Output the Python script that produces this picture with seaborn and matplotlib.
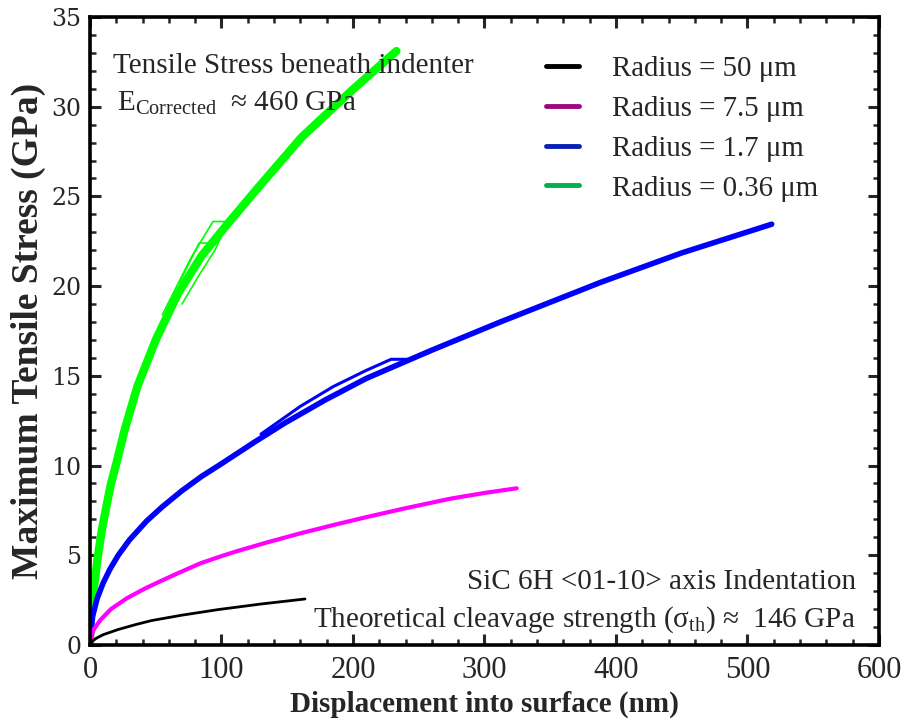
import numpy as np
import pandas as pd
import matplotlib
matplotlib.use("Agg")
import matplotlib.pyplot as plt
from matplotlib.lines import Line2D
from matplotlib.ticker import MultipleLocator
import seaborn as sns

# ---------------- data ----------------
black_x = [0, 2, 5, 10, 21.5, 35, 47, 70, 97.6, 130, 163.5]
black_y = [0, 0.22, 0.38, 0.57, 0.86, 1.14, 1.36, 1.66, 1.97, 2.28, 2.56]

magenta_x = [0, 1, 3, 8, 16, 28, 42, 55, 67, 84, 100, 112, 135, 160, 185, 210, 240, 274, 300, 324.5]
magenta_y = [0, 0.5, 0.88, 1.4, 2.0, 2.6, 3.15, 3.6, 4.0, 4.55, 4.95, 5.23, 5.72, 6.22,
             6.68, 7.12, 7.62, 8.15, 8.47, 8.73]

blue_x = [0, 0.8, 2, 5.5, 10, 15, 21.5, 30, 43, 55, 70, 85, 100, 125, 148, 179, 210,
          259, 312, 388, 450, 518.4]
blue_y = [0, 0.9, 1.6, 2.6, 3.45, 4.2, 5.0, 5.85, 6.9, 7.7, 8.6, 9.4, 10.1, 11.3, 12.36,
          13.66, 14.85, 16.4, 18.0, 20.2, 21.85, 23.45]
blue_popin_x = [130, 160, 185, 210, 229, 243, 258]
blue_popin_y = [11.75, 13.3, 14.4, 15.3, 15.92, 15.92, 16.3]

green_x = [0, 0.8, 2.8, 6.1, 9, 12.4, 16, 20, 26.4, 36, 50, 67, 85, 105, 128, 161, 199, 233]
green_y = [0, 1.6, 3.1, 5.0, 6.4, 7.7, 9.0, 10.1, 12.0, 14.4, 17.0, 19.6, 21.7, 23.5,
           25.5, 28.3, 30.9, 33.1]
green_popin_x = [55, 66, 77, 93.5, 105, 110]
green_popin_y = [18.4, 20.0, 21.6, 23.6, 23.6, 24.0]
green_step_x = [68, 83, 92, 97, 103]
green_step_y = [20.2, 22.4, 22.4, 22.9, 23.1]
green_unload_x = [105, 95, 82, 70]
green_unload_y = [23.6, 22.0, 20.5, 19.0]

legend_labels = ["Radius = 50 \u03bcm", "Radius = 7.5 \u03bcm",
                 "Radius = 1.7 \u03bcm", "Radius = 0.36 \u03bcm"]
legend_colors = ["#000000", "#a0067f", "#0a1fb5", "#00b050"]

xticks = [0, 100, 200, 300, 400, 500, 600]
yticks = [0, 5, 10, 15, 20, 25, 30, 35]

# ---------------- style ----------------
sns.set_style("ticks")
plt.rcParams["font.family"] = ["Liberation Serif", "DejaVu Serif"]
plt.rcParams["mathtext.fontset"] = "custom"
plt.rcParams["mathtext.rm"] = "Liberation Serif"
plt.rcParams["mathtext.it"] = "Liberation Serif:italic"
plt.rcParams["mathtext.bf"] = "Liberation Serif:bold"

fig = plt.figure(figsize=(9.10, 7.23), dpi=100)
ax = fig.add_axes([0.0989, 0.108, 0.867, 0.8685])

def draw(x, y, color, lw):
    sns.lineplot(x=x, y=y, color=color, lw=lw, sort=False, estimator=None,
                 ax=ax, legend=False)

draw(green_x, green_y, "#00ff00", 6.0)
draw(green_popin_x, green_popin_y, "#00ff00", 1.2)
draw(green_step_x, green_step_y, "#00ff00", 1.2)
draw(green_unload_x, green_unload_y, "#00ff00", 1.2)
draw(blue_x, blue_y, "#0000ff", 4.0)
draw(blue_popin_x, blue_popin_y, "#0000ff", 2.2)
draw(magenta_x, magenta_y, "#ff00ff", 3.0)
draw(black_x, black_y, "#000000", 2.0)

ax.set_xlim(0, 600)
ax.set_ylim(0, 35)
ax.set_xticks(xticks)
ax.set_yticks(yticks)
ax.xaxis.set_minor_locator(MultipleLocator(20))
ax.yaxis.set_minor_locator(MultipleLocator(1))
ax.tick_params(which="both", direction="in", top=True, right=True)
ax.tick_params(which="major", length=8, width=2.2)
ax.tick_params(which="minor", length=4, width=1.8)
ax.tick_params(axis="x", labelsize=22, pad=8)
for lab in ax.get_xticklabels():
    lab.set_family("Liberation Serif")
for lab in ax.get_yticklabels():
    lab.set_family("DejaVu Serif")
    lab.set_fontsize(17)
ax.tick_params(axis="y", pad=6)

for s in ax.spines.values():
    s.set_linewidth(2.6)
    s.set_color("black")

ax.set_xlabel("Displacement into surface (nm)", fontsize=21, fontweight="bold", labelpad=4)
ax.set_ylabel("Maximum Tensile Stress (GPa)", fontsize=27, fontweight="bold", labelpad=4)

ax.text(0.029, 0.922, "Tensile Stress beneath indenter", transform=ax.transAxes,
        fontsize=21, ha="left", va="center")
ax.text(0.034, 0.863, "E$_{\\mathrm{Corrected}}$  \u2248 460 GPa",
        transform=ax.transAxes, fontsize=21, ha="left", va="center")
ax.text(0.971, 0.100, "SiC 6H <01-10> axis Indentation", transform=ax.transAxes,
        fontsize=21, ha="right", va="center")
ax.text(0.971, 0.040, "Theoretical cleavage strength (\u03c3$_{\\mathrm{th}}$) \u2248  146 GPa",
        transform=ax.transAxes, fontsize=21, ha="right", va="center")

handles = [Line2D([0], [0], color=c, lw=3.5) for c in legend_colors]
ax.legend(handles, legend_labels, loc="upper left", bbox_to_anchor=(0.578, 0.938),
          frameon=False, fontsize=20.8, handlelength=1.15, handletextpad=1.15,
          labelspacing=0.47, borderpad=0, borderaxespad=0)

fig.savefig("out.png", dpi=100)
